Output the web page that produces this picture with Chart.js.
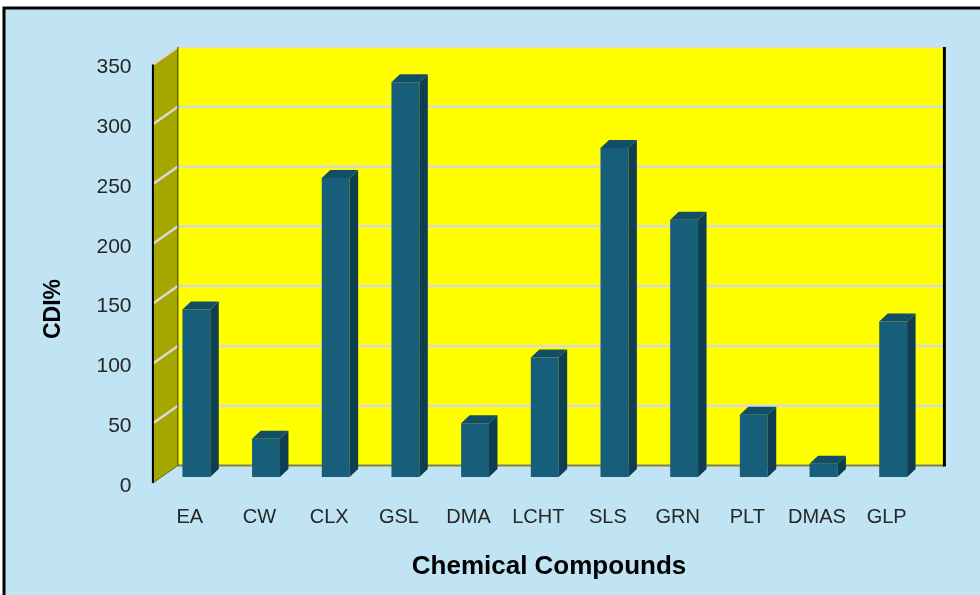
<!DOCTYPE html>
<html>
<head>
<meta charset="utf-8">
<title>CDI% by chemical compound</title>
<script src="https://cdn.jsdelivr.net/npm/chart.js@4.4.0/dist/chart.umd.min.js"></script>
<style>
  html, body { margin: 0; padding: 0; background: #fff; }
  #wrap { width: 980px; height: 595px; }
</style>
</head>
<body>
<div id="wrap"><canvas id="cdiChart" width="980" height="595"></canvas></div>
<script>
const compounds = ['EA', 'CW', 'CLX', 'GSL', 'DMA', 'LCHT', 'SLS', 'GRN', 'PLT', 'DMAS', 'GLP'];
const cdiValues = [140, 32, 250, 330, 45, 100, 275, 215, 52, 11, 130];
const yTicks = [0, 50, 100, 150, 200, 250, 300, 350];
const xTitle = 'Chemical Compounds';
const yTitle = 'CDI%';

// oblique offsets, measured from the plane the bar front faces sit on
const FRONT = { dx: -8.6, dy: 6 };
const BACK = { dx: 16.4, dy: -11.5 };
const BAR_DEPTH = { dx: 8.5, dy: -8 };

const colors = {
    page: '#c1e4f4',
    wall: '#ffff00',
    side: '#a6a600',
    grid: '#d9d9d9',
    barFront: '#165e7a',
    barSide: '#0e3e50',
    barTop: '#124e66',
    tick: '#262626'
};

function poly(ctx, pts, fill) {
    ctx.beginPath();
    ctx.moveTo(pts[0][0], pts[0][1]);
    for (let i = 1; i < pts.length; i++) ctx.lineTo(pts[i][0], pts[i][1]);
    ctx.closePath();
    ctx.fillStyle = fill;
    ctx.fill();
}

function line(ctx, x1, y1, x2, y2, color, width) {
    ctx.beginPath();
    ctx.moveTo(x1, y1);
    ctx.lineTo(x2, y2);
    ctx.strokeStyle = color;
    ctx.lineWidth = width;
    ctx.stroke();
}

const boxPlugin = {
    id: 'box3d',
    beforeDraw(chart) {
        const { ctx, width, height } = chart;
        ctx.save();
        ctx.fillStyle = '#ffffff';
        ctx.fillRect(0, 0, width, height);
        ctx.fillStyle = colors.page;
        ctx.fillRect(4, 8, width, height);
        ctx.beginPath();
        ctx.moveTo(4, height);
        ctx.lineTo(4, 8);
        ctx.lineTo(width, 8);
        ctx.strokeStyle = '#000';
        ctx.lineWidth = 3;
        ctx.stroke();
        ctx.restore();
    },
    beforeDatasetsDraw(chart) {
        const { ctx, chartArea: a, scales: { y } } = chart;
        const yTop = y.getPixelForValue(y.max);
        const yBot = y.getPixelForValue(y.min);
        const bl = a.left + BACK.dx, br = a.right + BACK.dx;
        const fl = a.left + FRONT.dx;

        ctx.save();
        // back wall and left side wall
        poly(ctx, [[bl, yTop + BACK.dy], [br, yTop + BACK.dy], [br, yBot + BACK.dy], [bl, yBot + BACK.dy]], colors.wall);
        poly(ctx, [[fl, yTop + FRONT.dy], [bl, yTop + BACK.dy], [bl, yBot + BACK.dy], [fl, yBot + FRONT.dy]], colors.side);

        // gridlines run across the side wall and the back wall
        yTicks.forEach(v => {
            if (v === y.min) return;
            const py = y.getPixelForValue(v);
            line(ctx, fl, py + FRONT.dy, bl, py + BACK.dy, colors.grid, 2.5);
            line(ctx, bl, py + BACK.dy, br, py + BACK.dy, colors.grid, 2.5);
        });

        line(ctx, bl, yBot + BACK.dy, br, yBot + BACK.dy, '#80804a', 2);
        line(ctx, fl, yBot + FRONT.dy, bl, yBot + BACK.dy, '#6b6b20', 1);
        line(ctx, bl, yTop + BACK.dy, bl, yBot + BACK.dy, '#3a3a00', 1);
        line(ctx, br, yTop + BACK.dy, br, yBot + BACK.dy + 1, '#000', 3);
        line(ctx, fl, yTop + FRONT.dy, fl, yBot + FRONT.dy, '#000', 2);
        ctx.restore();
    },
    afterDatasetsDraw(chart) {
        const ctx = chart.ctx;
        const meta = chart.getDatasetMeta(0);
        ctx.save();
        meta.data.forEach(bar => {
            const { x, y, base, width } = bar.getProps(['x', 'y', 'base', 'width'], true);
            const l = x - width / 2, r = x + width / 2;
            const dx = BAR_DEPTH.dx, dy = BAR_DEPTH.dy;
            poly(ctx, [[r, y], [r + dx, y + dy], [r + dx, base + dy], [r, base]], colors.barSide);
            poly(ctx, [[l, y], [l + dx, y + dy], [r + dx, y + dy], [r, y]], colors.barTop);
        });
        ctx.restore();
    },
    afterDraw(chart) {
        const ctx = chart.ctx;
        ctx.save();
        ctx.fillStyle = '#000';
        ctx.textAlign = 'center';
        ctx.textBaseline = 'middle';
        ctx.font = 'bold 26px "Liberation Sans", Arial, sans-serif';
        ctx.fillText(xTitle, 549, 567);

        ctx.translate(54, 309);
        ctx.rotate(-Math.PI / 2);
        ctx.font = 'bold 23px "Liberation Sans", Arial, sans-serif';
        ctx.fillText(yTitle, 0, 0);
        ctx.restore();
    }
};

document.addEventListener('DOMContentLoaded', () => {
    const ctx = document.getElementById('cdiChart').getContext('2d');

    new Chart(ctx, {
        type: 'bar',
        data: {
            labels: compounds,
            datasets: [{
                label: 'CDI%',
                data: cdiValues,
                backgroundColor: colors.barFront,
                borderWidth: 0,
                barPercentage: 0.4,
                categoryPercentage: 1
            }]
        },
        options: {
            responsive: false,
            animation: false,
            devicePixelRatio: 1,
            layout: {
                padding: { top: 58.4, right: 52, bottom: 58, left: 0 }
            },
            plugins: {
                legend: { display: false },
                tooltip: { enabled: false }
            },
            scales: {
                x: {
                    grid: { display: false, drawTicks: false },
                    border: { display: false },
                    ticks: {
                        color: colors.tick,
                        padding: 28,
                        labelOffset: -6.5,
                        maxRotation: 0,
                        font: { size: 20, family: '"Liberation Sans", Arial, sans-serif' }
                    },
                    afterFit: s => { s.height = 60; }
                },
                y: {
                    min: 0,
                    max: 350,
                    grid: { display: false, drawTicks: false },
                    border: { display: false },
                    afterBuildTicks: s => { s.ticks = yTicks.map(v => ({ value: v })); },
                    ticks: {
                        color: colors.tick,
                        padding: 30,
                        labelOffset: 9,
                        font: { size: 21, family: '"Liberation Sans", Arial, sans-serif' }
                    },
                    afterFit: s => { s.width = 161.5; }
                }
            }
        },
        plugins: [boxPlugin]
    });
});
</script>
</body>
</html>
